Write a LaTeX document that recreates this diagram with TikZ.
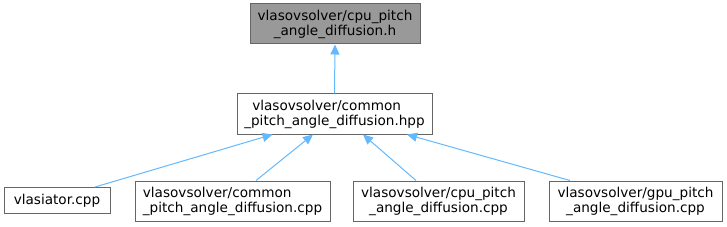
\documentclass[tikz,border=0pt]{standalone}
\usepackage{fontspec}
\setmainfont{DejaVu Sans}
\usepackage{xcolor}
\usetikzlibrary{positioning,arrows.meta,calc}
\definecolor{EdgeBlue}{HTML}{63B8FF}
\definecolor{BoxLine}{HTML}{666666}
\definecolor{BoxFill}{HTML}{999999}
\definecolor{TextDark}{HTML}{000000}

\begin{document}
\begin{tikzpicture}[x=1pt,y=-1pt,
          every node/.style={font=\fontsize{13.6}{15}\selectfont, text=TextDark},
          file/.style={draw=BoxLine, fill=white, line width=1pt, align=center,
            inner sep=0pt, minimum height=40pt},
          ar/.style={-{Triangle[length=10pt,width=9pt]}, EdgeBlue, line width=1pt}]
        \useasboundingbox (0,0) rectangle (727,227);
        \node[file, fill=BoxFill, minimum width=170pt] (hdr) at (335,24)
        {vlasovsolver/cpu\_pitch\\\_angle\_diffusion.h};
        \node[file, minimum width=195pt, align=left] (common) at (334.5,114)
        {\hspace*{8pt}vlasovsolver/common\\\_pitch\_angle\_diffusion.hpp};
        \node[file, minimum width=106pt, minimum height=26pt] (vlas) at (57,200.5)
        {vlasiator.cpp};
        \node[file, minimum width=195pt, align=left] (ccpp) at (232.5,201)
        {vlasovsolver/common\\\_pitch\_angle\_diffusion.cpp};
        \node[file, minimum width=171pt] (cpucpp) at (438.5,201)
        {vlasovsolver/cpu\_pitch\\\_angle\_diffusion.cpp};
        \node[file, minimum width=173pt] (gpucpp) at (635.5,201)
        {vlasovsolver/gpu\_pitch\\\_angle\_diffusion.cpp};
        \draw[ar] (common.north) -- (hdr.south);
        \draw[ar] ([xshift=38pt]vlas.north) -- ([xshift=-62pt]common.south);
        \draw[ar] ([xshift=23.5pt]ccpp.north) -- ([xshift=-21.5pt]common.south);
        \draw[ar] ([xshift=-22.5pt]cpucpp.north) -- ([xshift=28.5pt]common.south);
        \draw[ar] ([xshift=-65.5pt]gpucpp.north) -- ([xshift=72.5pt]common.south);
      \end{tikzpicture}
\end{document}
